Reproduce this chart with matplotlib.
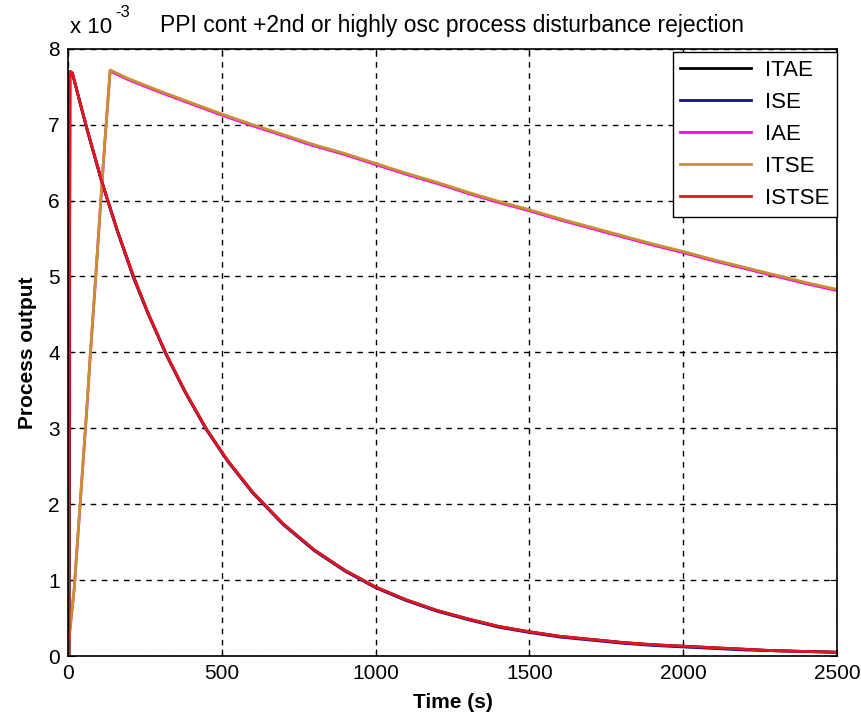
import matplotlib
matplotlib.use("Agg")
import matplotlib.pyplot as plt

plt.rcParams['font.family'] = ['Liberation Sans', 'DejaVu Sans']

# fast response (ITAE, ISE, ISTSE), values in units of 1e-3
t_fast = [0, 3, 6, 14, 60, 110, 160, 213, 260, 319, 380, 450, 520, 600, 700, 800,
          900, 1000, 1100, 1200, 1300, 1400, 1500, 1600, 1700, 1800, 1900, 2000,
          2100, 2200, 2300, 2400, 2500]
istse = [0, 0, 7.70, 7.68, 6.97, 6.25, 5.61, 5.00, 4.52, 3.98, 3.49, 2.99, 2.57, 2.16,
         1.74, 1.40, 1.13, 0.91, 0.74, 0.60, 0.49, 0.39, 0.32, 0.26, 0.22, 0.18,
         0.15, 0.13, 0.11, 0.09, 0.07, 0.06, 0.05]
ise = [0, 0, 7.70, 7.68, 6.96, 6.24, 5.60, 4.98, 4.51, 3.97, 3.48, 2.98, 2.56, 2.15,
       1.73, 1.39, 1.12, 0.90, 0.73, 0.59, 0.48, 0.38, 0.31, 0.25, 0.21, 0.17,
       0.14, 0.12, 0.10, 0.08, 0.07, 0.06, 0.05]
itae = istse

# slow response (IAE, ITSE)
t_slow = [0, 5, 20, 40, 60, 72, 90, 104, 120, 137, 200, 300, 400, 500, 600, 700,
          788, 900, 1000, 1100, 1200, 1300, 1400, 1500, 1600, 1700, 1800, 1900,
          2000, 2100, 2200, 2300, 2400, 2500]
itse = [0, 0.3, 0.88, 2.05, 3.20, 3.95, 5.00, 5.85, 6.80, 7.72, 7.60, 7.44, 7.29,
        7.14, 7.00, 6.87, 6.75, 6.62, 6.49, 6.36, 6.24, 6.11, 5.99, 5.88, 5.76,
        5.65, 5.54, 5.43, 5.33, 5.22, 5.12, 5.02, 4.92, 4.83]
iae = [v - 0.015 if v > 1 else v for v in itse]

labels = ['ITAE', 'ISE', 'IAE', 'ITSE', 'ISTSE']
colors = ['#000000', '#10109A', '#FF00FF', '#C8922A', '#E8141C']

fig = plt.figure(figsize=(8.61, 7.17), dpi=100)
ax = fig.add_axes([0.079, 0.085, 0.893, 0.847])

lw = 2.0
ax.plot(t_fast, [v * 1e-3 for v in itae], color=colors[0], lw=lw, label=labels[0])
ax.plot(t_fast, [v * 1e-3 for v in ise], color=colors[1], lw=lw, label=labels[1])
ax.plot(t_slow, [v * 1e-3 for v in iae], color=colors[2], lw=lw, label=labels[2])
ax.plot(t_slow, [v * 1e-3 for v in itse], color=colors[3], lw=lw, label=labels[3])
ax.plot(t_fast, [v * 1e-3 for v in istse], color=colors[4], lw=lw, label=labels[4])

ax.set_xlim(0, 2500)
ax.set_ylim(0, 8e-3)
ax.set_xticks([0, 500, 1000, 1500, 2000, 2500])
ax.set_yticks([i * 1e-3 for i in range(9)])
ax.set_yticklabels([str(i) for i in range(9)])
ax.tick_params(direction='in', top=True, right=True, labelsize=15, length=5, pad=6)
ax.grid(True, color='black', linestyle=(0, (4, 4)), linewidth=1.0)
for s in ax.spines.values():
    s.set_linewidth(1.2)

# exponent marker, MATLAB style
ax.text(0.002, 1.018, 'x 10', transform=ax.transAxes, fontsize=16,
        ha='left', va='bottom')
ax.text(0.062, 1.048, '-3', transform=ax.transAxes, fontsize=12,
        ha='left', va='bottom')
ax.set_title('PPI cont +2nd or highly osc process disturbance rejection',
             fontsize=16.5, pad=12)
ax.set_xlabel('Time (s)', fontsize=15, fontweight='bold', labelpad=7)
ax.set_ylabel('Process output', fontsize=15, fontweight='bold', labelpad=8)

leg = ax.legend(loc='upper right', bbox_to_anchor=(1.0, 0.995), fontsize=16,
                fancybox=False, framealpha=1, edgecolor='black', borderaxespad=0,
                handlelength=3.2, handletextpad=0.6, labelspacing=0.5,
                borderpad=0.35)
leg.get_frame().set_linewidth(1.0)

fig.savefig('out.png', dpi=100)
